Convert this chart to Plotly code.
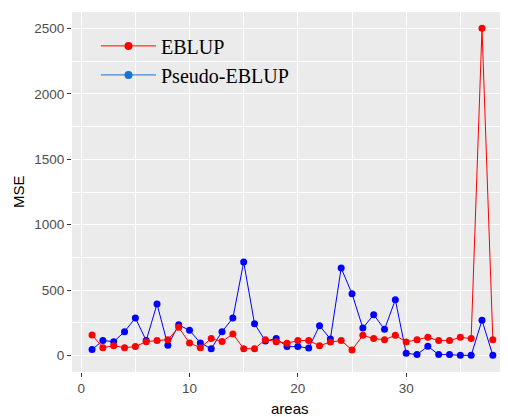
import plotly.graph_objects as go

areas = list(range(1, 39))
eblup = [158, 61, 76, 61, 69, 107, 115, 122, 216, 96,
         61, 130, 108, 165, 53, 53, 122, 106, 95, 115,
         115, 76, 104, 115, 43, 155, 130, 122, 155, 104,
         122, 140, 115, 115, 140, 130, 2500, 122]
pseudo = [46, 115, 107, 183, 288, 115, 394, 79, 235, 193,
          97, 53, 183, 287, 715, 244, 112, 130, 69, 69,
          58, 229, 127, 669, 473, 211, 313, 201, 427, 18,
          8, 71, 8, 8, 2, 2, 270, 2]

RED = "#FF0000"
BLUE = "#0000FF"
LEG_BLUE = "#1874CD"

fig = go.Figure()
fig.add_trace(go.Scatter(x=areas, y=pseudo, mode="lines+markers",
                         line=dict(color=BLUE, width=1),
                         marker=dict(color=BLUE, size=7),
                         showlegend=False))
fig.add_trace(go.Scatter(x=areas, y=eblup, mode="lines+markers",
                         line=dict(color=RED, width=1),
                         marker=dict(color=RED, size=7),
                         showlegend=False))
# legend keys
fig.add_trace(go.Scatter(x=[None], y=[None], mode="lines+markers", name="EBLUP",
                         line=dict(color=RED, width=1), marker=dict(color=RED, size=8)))
fig.add_trace(go.Scatter(x=[None], y=[None], mode="lines+markers", name="Pseudo-EBLUP",
                         line=dict(color=LEG_BLUE, width=1), marker=dict(color=LEG_BLUE, size=8)))

axis_common = dict(
    showline=False, zeroline=False, automargin=False,
    showgrid=True, gridcolor="white", gridwidth=1.1,
    ticks="outside", ticklen=4, tickwidth=1, tickcolor="#333333",
    tickfont=dict(family="Liberation Sans", size=13.5, color="#4D4D4D"),
)

fig.update_layout(
    width=500, height=409,
    margin=dict(l=64, r=0, t=4, b=45),
    paper_bgcolor="white", plot_bgcolor="#EBEBEB",
    xaxis=dict(range=[-0.85, 39.4], tickvals=[0, 10, 20, 30], ticklabelstandoff=0,
               minor=dict(tickvals=[5, 15, 25, 35], showgrid=True, gridcolor="white", gridwidth=0.5, ticks=""),
               **axis_common),
    yaxis=dict(range=[-125, 2625], tickvals=[0, 500, 1000, 1500, 2000, 2500],
               minor=dict(tickvals=[250, 750, 1250, 1750, 2250], showgrid=True, gridcolor="white", gridwidth=0.5, ticks=""),
               **axis_common),
    legend=dict(x=0.055, y=0.96, xanchor="left", yanchor="top",
                bgcolor="rgba(0,0,0,0)", itemwidth=55,
                font=dict(family="Liberation Serif", size=20, color="black"),
                tracegroupgap=0),
    showlegend=True,
    annotations=[
        dict(text="areas", xref="paper", yref="paper", x=0.5, y=0, yshift=-36,
             xanchor="center", yanchor="middle", showarrow=False,
             font=dict(family="Liberation Sans", size=15, color="black")),
        dict(text="MSE", xref="paper", yref="paper", x=0, y=0.5, xshift=-54,
             xanchor="center", yanchor="middle", showarrow=False, textangle=-90,
             font=dict(family="Liberation Sans", size=15, color="black")),
    ],
)

fig.write_html("out.html")
